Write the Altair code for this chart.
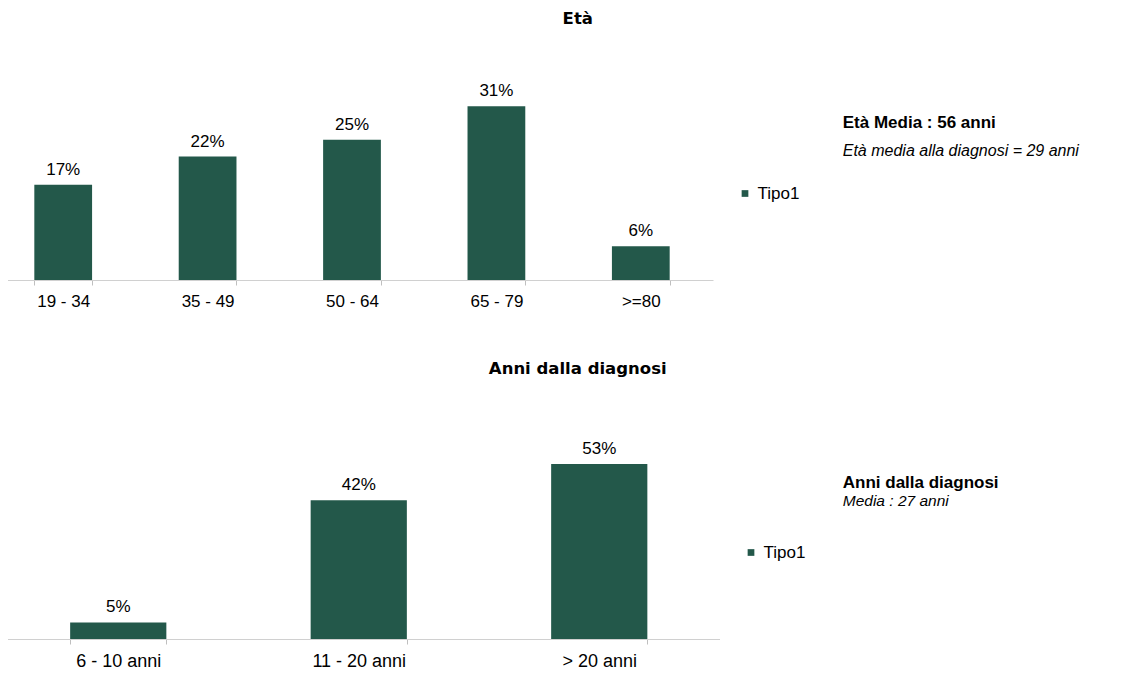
import altair as alt
import pandas as pd

# ---- data ----
eta_cats = ["19 - 34", "35 - 49", "50 - 64", "65 - 79", ">=80"]
eta_vals = [17, 22, 25, 31, 6]
anni_cats = ["6 - 10 anni", "11 - 20 anni", "> 20 anni"]
anni_vals = [5, 42, 53]
series_name = "Tipo1"

eta_title = "Età"
eta_note_bold = "Età Media : 56 anni"
eta_note_italic = "Età media alla diagnosi = 29 anni"
anni_title = "Anni dalla diagnosi"
anni_note_bold = "Anni dalla diagnosi"
anni_note_italic = "Media : 27 anni"

COLOR = "#23584a"
LBL_FONT = "Liberation Sans"
TTL_FONT = "DejaVu Sans"


def text_layer(txt, x, y, font, size, weight="normal", style="normal", align="left"):
    return alt.Chart(pd.DataFrame({"t": [txt]})).mark_text(
        font=font, fontSize=size, fontWeight=weight, fontStyle=style,
        align=align, baseline="alphabetic", color="#000000"
    ).encode(x=alt.value(x), y=alt.value(y), text="t:N")


def panel(cats, vals, width, height, ymax, xrange, axis_size, title, title_y,
          nb, nb_y, ni, ni_y, ni_size, leg_x, leg_y):
    df = pd.DataFrame({
        "cat": cats,
        "val": vals,
        "label": [f"{v}%" for v in vals],
        "serie": [series_name] * len(cats),
    })
    sc = dict(paddingInner=0.6, paddingOuter=0.3)
    if xrange is not None:
        sc["range"] = xrange
    x = alt.X("cat:N", sort=cats, scale=alt.Scale(**sc),
              axis=alt.Axis(title=None, labelAngle=0, tickBand="extent",
                            tickSize=5, tickColor="#bfbfbf", domainColor="#d0d0d0",
                            labelFont=LBL_FONT, labelFontSize=axis_size, labelColor="#000000",
                            labelPadding=8, grid=False))
    y = alt.Y("val:Q", scale=alt.Scale(domain=[0, ymax]), axis=None)
    base = alt.Chart(df)
    bars = base.mark_bar().encode(
        x=x, y=y,
        color=alt.Color("serie:N", scale=alt.Scale(range=[COLOR]),
                        legend=alt.Legend(orient="none", legendX=leg_x, legendY=leg_y,
                                          title=None, symbolType="square", symbolSize=45,
                                          symbolStrokeWidth=0, labelFont=LBL_FONT,
                                          labelFontSize=17, labelColor="#000000",
                                          labelOffset=4, padding=0)),
    )
    labels = base.mark_text(baseline="alphabetic", dy=-10, font=LBL_FONT,
                            fontSize=17, color="#000000").encode(x=x, y=y, text="label:N")
    ttl = text_layer(title, 586.75, title_y, TTL_FONT, 16.5, weight="bold", align="center")
    n1 = text_layer(nb, 851.75, nb_y, LBL_FONT, 17, weight="bold")
    n2 = text_layer(ni, 851.75, ni_y, LBL_FONT, ni_size, style="italic")
    return alt.layer(bars, labels, ttl, n1, n2).properties(width=width, height=height)


top = panel(eta_cats, eta_vals, 722, 272, 48.5, None, 17, eta_title, 16,
            eta_note_bold, 120, eta_note_italic, 148, 16, 745.5, 177)
bottom = panel(anni_cats, anni_vals, 729, 289, 87.5, [7, 728.5], 18, anni_title, 24,
               anni_note_bold, 137.5, anni_note_italic, 155.5, 15.5, 751.5, 194)

chart = alt.vconcat(top, bottom, spacing=70, bounds="flush").resolve_scale(
    color="independent"
).resolve_legend(color="independent").properties(
    padding={"left": -17, "top": 0, "right": 5, "bottom": 5}
).configure_view(stroke=None)

chart.save("out.html", embed_options={"renderer": "svg", "actions": False})
